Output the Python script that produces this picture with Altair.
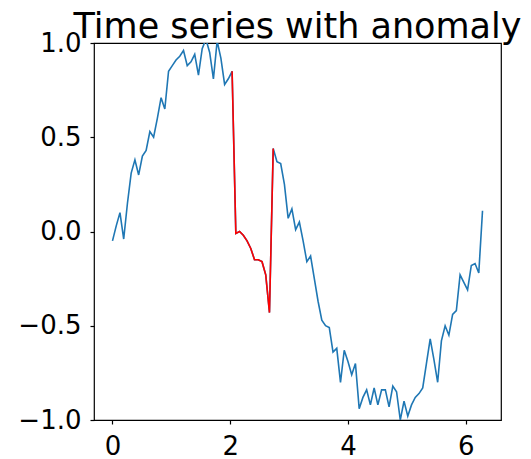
import altair as alt
import numpy as np
import pandas as pd

# 100 samples over one period
t_values = np.round(np.linspace(0, 2 * np.pi, 100), 4).tolist()

signal = [
    -0.05, 0.03, 0.10, -0.04, 0.15, 0.31, 0.38, 0.30, 0.40, 0.43,
    0.53, 0.50, 0.60, 0.71, 0.65, 0.85, 0.88, 0.91, 0.93, 0.96,
    0.88, 0.90, 0.94, 0.83, 0.97, 1.02, 0.95, 0.81, 1.01, 0.92,
    0.78, 0.81, 0.85, -0.01, 0.00, -0.02, -0.05, -0.09, -0.15, -0.15,
    -0.16, -0.23, -0.43, 0.44, 0.37, 0.36, 0.25, 0.07, 0.12, 0.01,
    0.05, -0.05, -0.16, -0.13, -0.25, -0.37, -0.47, -0.50, -0.51, -0.64,
    -0.62, -0.80, -0.63, -0.69, -0.76, -0.70, -0.94, -0.88, -0.84, -0.92,
    -0.83, -0.92, -0.84, -0.84, -0.93, -0.82, -0.85, -1.00, -0.90, -0.98,
    -0.92, -0.88, -0.86, -0.83, -0.70, -0.57, -0.68, -0.80, -0.58, -0.50,
    -0.55, -0.44, -0.42, -0.23, -0.27, -0.31, -0.18, -0.17, -0.22, 0.11,
]

anomaly_start = 32
anomaly_end = 43

x_ticks = [0, 2, 4, 6]
y_ticks = [-1.0, -0.5, 0.0, 0.5, 1.0]

df = pd.DataFrame({"t": t_values, "v": signal, "idx": list(range(len(signal)))})

x_enc = alt.X("t:Q", scale=alt.Scale(domain=[-0.314, 6.597], nice=False, zero=False),
              axis=alt.Axis(values=x_ticks, format="d", title=None))
y_enc = alt.Y("v:Q", scale=alt.Scale(domain=[-1, 1], nice=False, zero=False),
              axis=alt.Axis(values=y_ticks, format=".1f", title=None))

base = alt.Chart(df)
blue = base.mark_line(color="#1f77b4", strokeWidth=1.6, clip=True).encode(
    x=x_enc, y=y_enc, order="idx:Q")
red = base.transform_filter(
    (alt.datum.idx >= anomaly_start) & (alt.datum.idx <= anomaly_end)
).mark_line(color="#ff0000", strokeWidth=1.6, clip=True).encode(
    x=x_enc, y=y_enc, order="idx:Q")

chart = alt.layer(blue, red).properties(
    width=407, height=377,
    title=alt.TitleParams("Time series with anomaly", fontSize=35, font="DejaVu Sans",
                          fontWeight="normal", color="black", anchor="middle",
                          frame="group", offset=1, dy=16),
    autosize=alt.AutoSizeParams(type="none"),
    padding={"left": 86, "top": 35, "right": 22, "bottom": 40},
).configure_view(stroke="black", strokeWidth=1.2).configure_axis(
    grid=False, domain=False, tickColor="black", tickSize=4, tickWidth=1.2,
    labelFont="DejaVu Sans", labelFontSize=26, labelColor="black", labelPadding=9,
)

chart.save("out.html", embed_options={"renderer": "svg", "actions": False})
